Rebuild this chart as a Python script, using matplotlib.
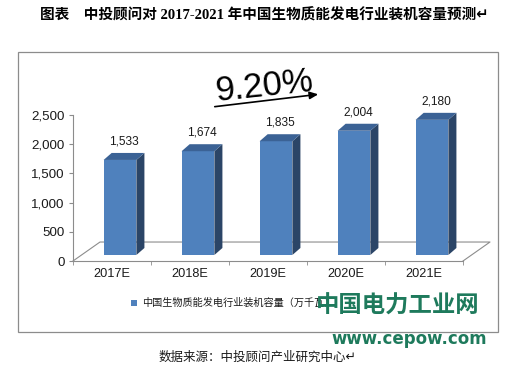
import matplotlib
matplotlib.use("Agg")
import matplotlib.pyplot as plt
from matplotlib.patches import Rectangle, Polygon, FancyArrowPatch
import numpy as np

# ---- data ----
categories = ["2017E", "2018E", "2019E", "2020E", "2021E"]
values = [1533, 1674, 1835, 2004, 2180]
value_labels = ["1,533", "1,674", "1,835", "2,004", "2,180"]
yticks = [0, 500, 1000, 1500, 2000, 2500]
ytick_labels = ["0", "500", "1,000", "1,500", "2,000", "2,500"]
growth_label = "9.20%"
title = "图表    中投顾问对 2017-2021 年中国生物质能发电行业装机容量预测↵"
legend_label = "中国生物质能发电行业装机容量（万千瓦）"
source = "数据来源：中投顾问产业研究中心↵"
watermark1 = "中国电力工业网"
watermark2 = "www.cepow.com"

W, H = 505, 368
fig = plt.figure(figsize=(W / 100, H / 100), dpi=100)
fig.patch.set_facecolor("white")

def fx(px):
    return px / W

def fy(py):
    return 1 - py / H

sans = ["Liberation Sans", "Noto Sans CJK SC", "DejaVu Sans"]
cjk = ["Noto Sans CJK SC", "DejaVu Sans"]
txtc = "#1a1a1a"

# frame box
fig.patches.append(Rectangle((fx(18), fy(332)), fx(498) - fx(18), fy(52) - fy(332),
                             transform=fig.transFigure, fill=False,
                             edgecolor="#8c8c8c", linewidth=0.9))

# ---- main axes (scale, ticks, floor) ----
ax = fig.add_axes([fx(73), fy(261), fx(463) - fx(73), fy(115) - fy(261)])
ax.set_xlim(-0.5, len(categories) - 0.5)
ax.set_ylim(0, 2500)
ax.patch.set_alpha(0)
for s in ["top", "right"]:
    ax.spines[s].set_visible(False)
for s in ["left", "bottom"]:
    ax.spines[s].set_color("#8c8c8c")
    ax.spines[s].set_linewidth(0.8)
ax.set_yticks(yticks)
ax.set_yticklabels(ytick_labels, fontsize=9.6, family=sans, color=txtc)
ax.tick_params(axis="y", length=3, color="#8c8c8c", pad=3)
x = np.arange(len(categories))
ax.set_xticks(x)
ax.set_xticklabels(categories, fontsize=9.2, family=sans, color=txtc)
ax.tick_params(axis="x", which="major", length=0, pad=5)
ax.set_xticks(np.arange(len(categories) + 1) - 0.5, minor=True)
ax.tick_params(axis="x", which="minor", length=3, color="#8c8c8c")

# floor (3D depth expressed in data units)
fdx, fdy = 0.346, 325
x0, x1 = -0.5, len(categories) - 0.5
ax.plot([x0, x0 + fdx, x1 + fdx, x1], [0, fdy, fdy, 0],
        color="#8c8c8c", lw=0.8, clip_on=False)

# ---- bar axes ----
bx = fig.add_axes([fx(81), fy(255), fx(471) - fx(81), fy(100) - fy(255)])
bx.set_xlim(-0.5, len(categories) - 0.5)
bx.set_ylim(0, 2500)
bx.axis("off")
bw = 0.42
ddx, ddy = 0.103, 113
front_c = "#4f81bd"
top_c = "#3b6295"
side_c = "#2b4567"
for xi, v, lab in zip(x, values, value_labels):
    l, r = xi - bw / 2, xi + bw / 2
    bx.add_patch(Rectangle((l, 0), bw, v, facecolor=front_c, edgecolor="none"))
    bx.add_patch(Polygon([(r, 0), (r + ddx, ddy), (r + ddx, v + ddy), (r, v)],
                         closed=True, facecolor=side_c, edgecolor="none"))
    bx.add_patch(Polygon([(l, v), (l + ddx, v + ddy), (r + ddx, v + ddy), (r, v)],
                         closed=True, facecolor=top_c, edgecolor="none"))
    bx.annotate(lab, (xi + ddx / 2, v + ddy), xytext=(0, 4), textcoords="offset points",
                ha="center", va="bottom", fontsize=8.6, family=sans, color=txtc)

# growth annotation
fig.text(fx(264), fy(86), growth_label, fontsize=25, family=sans, color="black",
         rotation=6, ha="center", va="center", rotation_mode="anchor")
fig.patches.append(FancyArrowPatch(
    (fx(212), fy(107)), (fx(321), fy(94)), transform=fig.transFigure,
    arrowstyle="-|>,head_length=5,head_width=2.2", color="black", lw=1.2,
    mutation_scale=1))

# title
fig.text(fx(264), fy(15), title, fontsize=10.5, fontweight="bold",
         family=["Liberation Serif", "Noto Sans CJK SC", "DejaVu Sans"],
         ha="center", va="center", color="black")

# legend
fig.patches.append(Rectangle((fx(131), fy(306)), fx(6), 6 / H,
                             transform=fig.transFigure, facecolor=front_c, edgecolor="none"))
fig.text(fx(142), fy(303), legend_label, fontsize=7.3, family=cjk, color=txtc,
         ha="left", va="center")

# watermark
wm_c = "#1e7a5c"
fig.text(fx(398), fy(306), watermark1, fontsize=16.8, fontweight="bold", family=cjk,
         color=wm_c, ha="center", va="center")
fig.text(fx(409), fy(339), watermark2, fontsize=12, fontweight="bold",
         family=["DejaVu Sans"], color=wm_c, ha="center", va="center")

# source
fig.text(fx(159), fy(357), source, fontsize=9.0, family=cjk, color=txtc,
         ha="left", va="center")

fig.savefig("out.png", dpi=100, facecolor="white")
